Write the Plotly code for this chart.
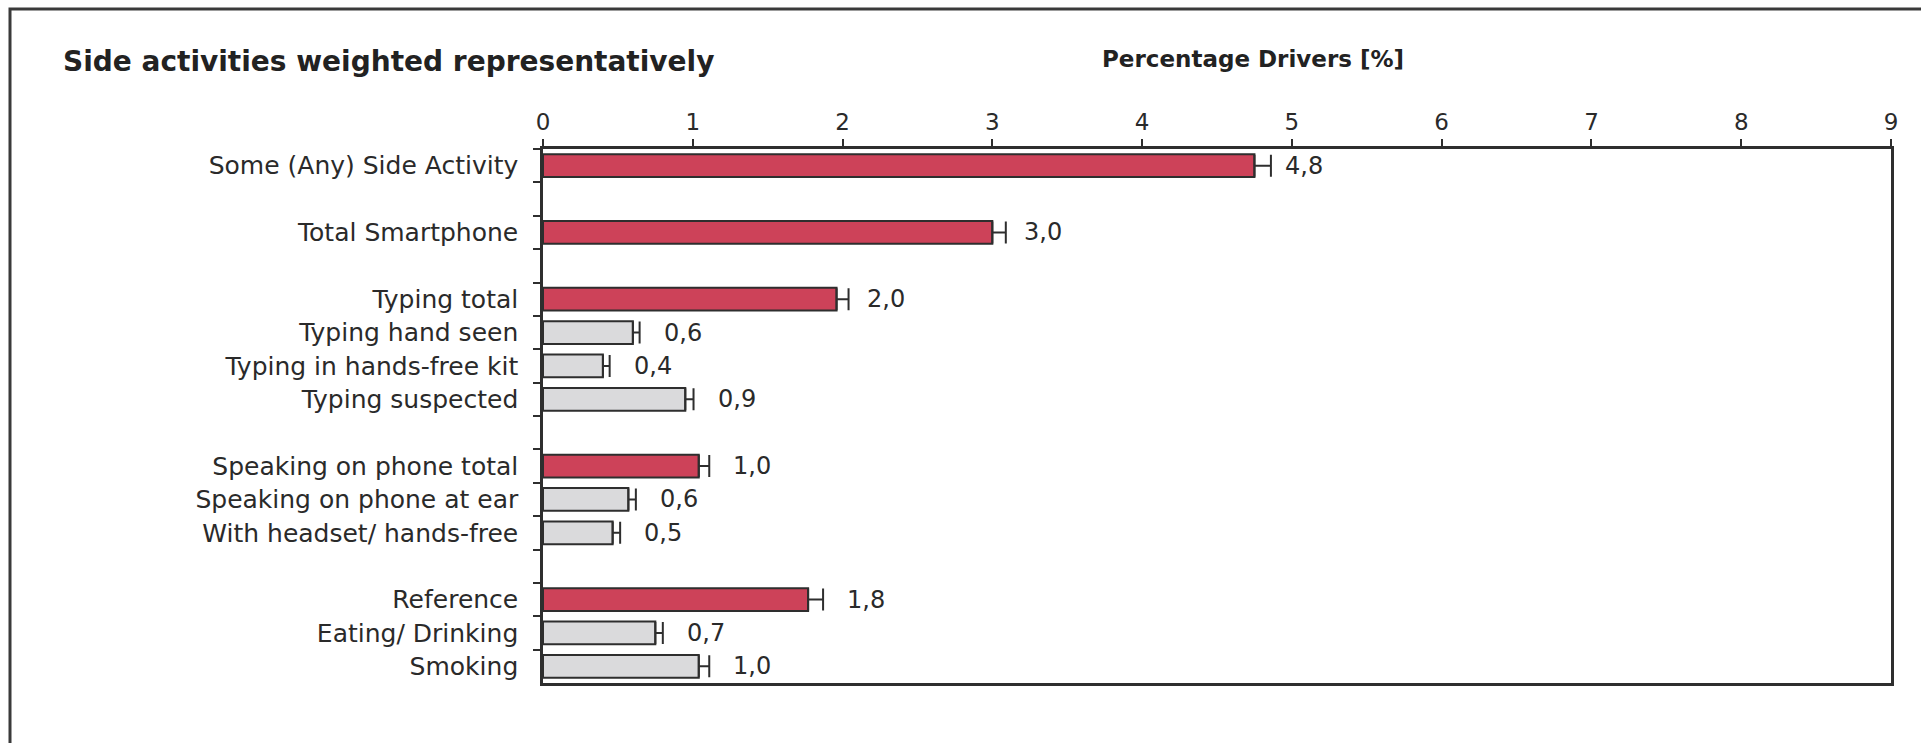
import plotly.graph_objects as go

W, H = 1921, 743

# ---- data ----
categories = [
    "Some (Any) Side Activity", " ",
    "Total Smartphone", "  ",
    "Typing total", "Typing hand seen", "Typing in hands-free kit", "Typing suspected", "   ",
    "Speaking on phone total", "Speaking on phone at ear", "With headset/ hands-free", "    ",
    "Reference", "Eating/ Drinking", "Smoking",
]
bar_categories = [
    "Some (Any) Side Activity", "Total Smartphone",
    "Typing total", "Typing hand seen", "Typing in hands-free kit", "Typing suspected",
    "Speaking on phone total", "Speaking on phone at ear", "With headset/ hands-free",
    "Reference", "Eating/ Drinking", "Smoking",
]
values = [4.75, 3.00, 1.96, 0.60, 0.40, 0.95, 1.04, 0.57, 0.465, 1.77, 0.75, 1.04]
errors = [0.11, 0.09, 0.08, 0.045, 0.045, 0.055, 0.07, 0.05, 0.05, 0.10, 0.05, 0.07]
labels = ["4,8", "3,0", "2,0", "0,6", "0,4", "0,9", "1,0", "0,6", "0,5", "1,8", "0,7", "1,0"]
is_total = [True, True, True, False, False, False, True, False, False, True, False, False]
x_ticks = [0, 1, 2, 3, 4, 5, 6, 7, 8, 9]

# ---- style ----
RED = "#CD4259"
GRAY = "#DADADC"
EDGE = "#2E2E2E"
TXT = "#2A2A2A"
FONT = "DejaVu Sans"
label_shift = [12, 16, 16, 22, 22, 22, 22, 22, 22, 22, 22, 22]

fig = go.Figure()
fig.add_trace(go.Bar(
    y=bar_categories, x=values, orientation="h",
    marker=dict(color=[RED if t else GRAY for t in is_total],
                line=dict(color=EDGE, width=2)),
    width=0.68,
    error_x=dict(type="data", symmetric=False, array=errors,
                 arrayminus=[0] * len(errors), color=EDGE, thickness=2, width=11),
    showlegend=False, hoverinfo="skip",
))

x0, x1 = 543 / W, 1891 / W
y_top, y_bot = 149, 683

for c, v, e, lab, s in zip(bar_categories, values, errors, labels, label_shift):
    fig.add_annotation(x=v + e, y=c, xref="x", yref="y", text=lab, showarrow=False,
                       xanchor="left", yanchor="middle", xshift=s,
                       font=dict(family=FONT, size=24, color=TXT))

fig.add_annotation(x=61 / W, y=1 - 61 / H, xref="paper", yref="paper",
                   text="<b>Side activities weighted representatively</b>",
                   showarrow=False, xanchor="left", yanchor="middle",
                   font=dict(family=FONT, size=28, color="#222222"))
fig.add_annotation(x=1100 / W, y=1 - 59 / H, xref="paper", yref="paper",
                   text="<b>Percentage Drivers [%]</b>",
                   showarrow=False, xanchor="left", yanchor="middle",
                   font=dict(family=FONT, size=23, color="#222222"))

# outer frame
fig.add_shape(type="rect", xref="paper", yref="paper",
              x0=10 / W, x1=1.02, y0=-0.05, y1=1 - 9 / H,
              line=dict(color="#3A3A3A", width=3), fillcolor="rgba(0,0,0,0)")

fig.update_layout(
    width=W, height=H,
    margin=dict(l=0, r=0, t=0, b=0),
    paper_bgcolor="white", plot_bgcolor="white",
    xaxis=dict(domain=[x0, x1], side="top", range=[0, 9], tickvals=x_ticks,
               ticktext=[str(t) for t in x_ticks],
               ticks="outside", ticklen=7, tickwidth=2, tickcolor=EDGE,
               showline=True, linecolor=EDGE, linewidth=2.5, mirror=True,
               showgrid=False, zeroline=False, automargin=False,
               ticklabelstandoff=0,
               tickfont=dict(family=FONT, size=23, color=TXT)),
    yaxis=dict(domain=[1 - y_bot / H, 1 - y_top / H], type="category",
               categoryorder="array", categoryarray=categories,
               range=[len(categories) - 0.5, -0.5],
               tickson="boundaries", ticks="outside", ticklen=7, tickwidth=2,
               tickcolor=EDGE, showline=True, linecolor=EDGE, linewidth=2.5,
               mirror=True, showgrid=False, zeroline=False, automargin=False,
               ticklabelstandoff=17,
               tickfont=dict(family=FONT, size=25, color=TXT)),
)

fig.write_html("out.html")
